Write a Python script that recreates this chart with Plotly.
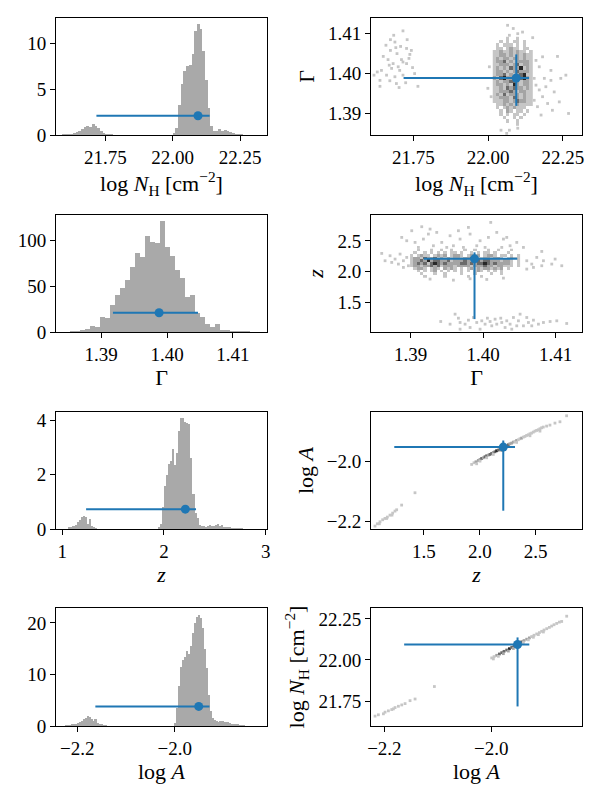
import numpy as np
import plotly.graph_objects as go

# ---- best values and intervals ----
NH_BEST, NH_LO, NH_HI = 22.094, 21.717, 22.137
GAM_BEST, GAM_LO, GAM_HI = 1.3988, 1.3918, 1.4047
Z_BEST, Z_LO, Z_HI = 2.21, 1.234, 2.315
LA_BEST, LA_LO, LA_HI = -1.951, -2.163, -1.929

# height of the marker inside the 1d histograms
NH_MARK_Y = 2.1
GAM_MARK_Y = 21.0
Z_MARK_Y = 0.73
LA_MARK_Y = 3.8

# ---- 1d histograms (normalised) ----
NH_BIN_START, NH_BIN_WIDTH = 21.59, 0.01
NH_DENSITY = ([0.05, 0.05, 0.1, 0.1, 0.2, 0.3, 0.45, 0.6, 0.85, 1.0, 0.9, 1.15, 0.95, 0.75, 0.4, 0.2,
               0.1, 0.05, 0.05]
              + [0.0] * 22
              + [0.15, 0.8, 3.3, 5.6, 7.0, 7.5, 7.6, 8.8, 11.3, 12.1, 11.5, 9.2, 6.0, 2.9, 1.0, 0.45,
                 0.4, 0.6, 0.45, 0.55, 0.4, 0.3, 0.25, 0.1, 0.05, 0.05])

GAM_BIN_START, GAM_BIN_WIDTH = 1.38529, 0.00076
GAM_DENSITY = [0.5, 1, 1.5, 3, 6, 5.5, 16, 15, 29, 40, 48, 57, 71, 86, 82, 105, 98, 97, 121, 93, 83,
               68, 59, 38, 40, 21, 16, 9, 5.5, 9, 2.5, 1.5, 1, 0.5, 0.3, 0.2]

Z_BIN_START, Z_BIN_WIDTH = 1.06, 0.02
Z_DENSITY = ([0.05, 0.05, 0.1, 0.15, 0.25, 0.35, 0.45, 0.48, 0.45, 0.2, 0.38, 0.1, 0.05, 0.03]
             + [0.0] * 30
             + [0.05, 0.2, 0.8, 1.6, 2.0, 2.4, 2.5, 2.95, 2.35, 2.8, 3.6, 4.1, 4.1, 3.95, 3.9, 3.85,
                2.6, 1.3, 0.6, 0.4, 0.15, 0.1, 0.1, 0.08, 0.1, 0.15, 0.12, 0.1, 0.15, 0.18, 0.1,
                0.15, 0.08, 0.05, 0.05, 0.04, 0.03, 0.02, 0.02, 0.02, 0.01, 0.01])

LA_BIN_START, LA_BIN_WIDTH = -2.224, 0.004
LA_DENSITY = ([0.05, 0.1, 0.15, 0.2, 0.3, 0.4, 0.6, 0.8, 1.0, 1.3, 1.6, 1.9, 1.7, 1.3, 0.9, 1.4, 0.6,
               0.3, 0.2, 0.1, 0.05]
              + [0.0] * 35
              + [0.5, 3.5, 7.8, 11.5, 12.8, 13.4, 14.5, 14.0, 15.5, 18.0, 20.0, 21.2, 21.6, 21.0,
                 19.0, 15.0, 11.2, 6.0, 3.0, 1.6, 1.1, 0.9, 0.8, 0.9, 1.0, 0.8, 0.8, 0.7, 0.5, 0.45,
                 0.35, 0.3, 0.2, 0.15, 0.1, 0.05])

# ---- 2d histograms ----
# dense cores as level maps (1 light .. 4 black), rows top to bottom
NHG_CORE_X0, NHG_CORE_DX = 22.021, 0.0111
NHG_CORE_Y0, NHG_CORE_DY = 1.4087, -0.00083
NHG_CORE = [
    "....1..1....",
    "..1.1.11.1..",
    ".1.111.1.1..",
    ".11.1211.11.",
    "1121121211.1",
    "112212121211",
    "121221221211",
    "122312122221",
    "112221231221",
    "121213224121",
    "122121232221",
    "122312123411",
    "213422213421",
    "121223321221",
    "122121421221",
    "112132322121",
    "112223212211",
    "121312221211",
    "112221321211",
    "111221232211",
    ".11212121111",
    ".1.1212111..",
    "..1.21.11.1.",
    "..1.1.11.1..",
    "...1..1.1...",
    "....1..1....",
    ".......1....",
]
NHG_SPARSE_NH = [21.715, 21.684, 21.673, 21.688, 21.729, 21.658, 21.707, 21.727, 21.673, 21.695,
                 21.649, 21.738, 21.665, 21.710, 21.682, 21.727, 21.747, 21.677, 21.699, 21.715,
                 21.643, 21.629, 21.660, 21.688, 21.715, 21.754, 21.638, 21.671, 21.693, 21.724,
                 21.765, 21.638, 21.702, 21.618, 21.735, 21.691, 21.669, 21.743, 21.704,
                 22.065, 22.084, 22.071, 22.099, 22.115, 22.149, 22.182, 22.210, 22.232, 22.260,
                 22.243, 22.160, 22.193, 22.171, 22.210, 22.221, 22.182, 22.199, 22.215, 22.177,
                 22.269, 22.238, 22.154, 22.165, 22.160, 22.171, 22.154, 22.188, 22.071, 22.099,
                 22.043, 22.004, 21.999, 22.010, 22.062]
NHG_SPARSE_G = [1.4106, 1.4095, 1.4084, 1.4078, 1.4084, 1.4070, 1.4067, 1.4062, 1.4057, 1.4049,
                1.4042, 1.4047, 1.4034, 1.4034, 1.4024, 1.4024, 1.4014, 1.4012, 1.4016, 1.4028,
                1.4007, 1.4003, 1.3995, 1.3991, 1.3995, 1.3999, 1.3982, 1.3981, 1.3974, 1.3976,
                1.3967, 1.3967, 1.3964, 1.3995, 1.4037, 1.4064, 1.4020, 1.4057, 1.4007,
                1.4120, 1.4112, 1.4095, 1.4099, 1.4103, 1.4089, 1.4041, 1.4007, 1.4042, 1.3995,
                1.3987, 1.3970, 1.3966, 1.3958, 1.3982, 1.3953, 1.3941, 1.3924, 1.3907, 1.3895,
                1.3899, 1.3928, 1.3932, 1.3916, 1.4032, 1.4016, 1.3987, 1.3987, 1.3857, 1.3862,
                1.3857, 1.4016, 1.3962, 1.3941, 1.3849]

GZ_CORE_X0, GZ_CORE_DX = 1.39014, 0.00046
GZ_CORE_Y0, GZ_CORE_DY = 2.3517, -0.0432
GZ_CORE = [
    "..1...1..1..1...1..1...1..1...1..",
    ".1..1.1.1.1.11.1..1.1.11.1...1...",
    "1.1211.1212.1221.1212.1221.11.1.1",
    "1221322312121221223211221221.1211",
    "1223242332231222322332332221221.1",
    "1232313432322223323233432322221.1",
    "1221223231222122221222322122111.1",
    ".1221.121.2121.1.12121221212.1...",
    "..1.1.12.1.1.1.1.1.121.1.1.1.....",
    "...1...1..1....1...1....1..1.....",
    "....1.....1......1...1...........",
]
GZ_SPARSE_G = [1.39152, 1.39267, 1.39014, 1.38876, 1.38945, 1.39060, 1.39175, 1.39359, 1.39428,
               1.39543, 1.39589, 1.39681, 1.39796, 1.39819, 1.39957, 1.40072, 1.40187, 1.40279,
               1.40325, 1.40371, 1.40555, 1.40808, 1.40104, 1.39497, 1.39313, 1.39911, 1.39727,
               1.40026, 1.40256, 1.39244, 1.39106, 1.39658, 1.40463,
               1.38600, 1.38715, 1.38784, 1.38853, 1.38899, 1.38830, 1.38738, 1.38945, 1.38646,
               1.38968, 1.38899,
               1.40601, 1.40670, 1.40739, 1.40808, 1.40946, 1.40992, 1.41084, 1.40693, 1.40601,
               1.40831,
               1.39267, 1.39589, 1.39819, 1.40049, 1.40279,
               1.39414, 1.39658, 1.39681, 1.39750, 1.39796, 1.39819, 1.39911, 1.39980, 1.40026,
               1.40095, 1.40164, 1.40187, 1.40256, 1.40325, 1.40371, 1.40417, 1.40486, 1.40509,
               1.40555, 1.40624, 1.40693, 1.40762, 1.40831, 1.40923, 1.41015, 1.41152, 1.39681,
               1.39957, 1.40302, 1.39612, 1.39543, 1.40394, 1.39865, 1.40118, 1.40463, 1.40670,
               1.40058, 1.40242, 1.40601]
GZ_SPARSE_Z = [2.730, 2.692, 2.665, 2.557, 2.503, 2.476, 2.530, 2.638, 2.476, 2.584, 2.422, 2.530,
               2.719, 2.611, 2.503, 2.557, 2.638, 2.530, 2.557, 2.422, 2.395, 2.330, 2.800, 2.395,
               2.422, 2.422, 2.395, 2.395, 2.395, 2.611, 2.395, 2.665, 2.476,
               2.298, 2.260, 2.206, 2.287, 2.179, 2.125, 2.152, 2.233, 2.179, 2.098, 2.071,
               2.179, 2.125, 2.233, 2.098, 2.125, 2.206, 2.098, 2.071, 2.044, 2.179,
               1.882, 1.865, 1.887, 1.876, 1.898,
               1.195, 1.249, 1.179, 1.152, 1.217, 1.098, 1.179, 1.206, 1.152, 1.195, 1.233, 1.152,
               1.179, 1.206, 1.152, 1.260, 1.206, 1.314, 1.125, 1.179, 1.217, 1.152, 1.179, 1.195,
               1.206, 1.163, 1.071, 1.071, 1.098, 1.314, 1.152, 1.071, 1.260, 1.125, 1.125, 1.125,
               1.249, 1.249, 1.260]

ZA_Z = [1.9267, 1.9477, 1.9655, 1.9864, 2.0014, 2.0163, 2.0312, 2.0461, 2.0611, 2.0760, 2.0909,
        2.1058, 2.1207, 2.1357, 2.1506, 2.1655, 2.1804, 2.1954, 2.2252, 2.2401, 2.2550, 2.2699,
        2.2849, 2.2998, 2.3147, 2.3296, 2.3446, 2.3595, 2.3744, 2.3893, 2.4042, 2.4192, 2.4341,
        2.4490, 2.4639, 2.4789, 2.4938, 2.5087, 2.5236, 2.5385, 2.5535, 2.5684, 2.5982, 2.6281,
        2.6729, 2.7176, 2.7773,
        2.0014, 2.0611, 2.1207, 1.9715, 2.1954, 2.3296, 2.4490, 2.5385,
        1.0613, 1.0822, 1.1061, 1.1300, 1.1509, 1.1717, 1.1956, 1.2195, 1.2404, 1.2553, 1.2999,
        1.4194, 1.1001, 1.1658, 1.2135]
ZA_A = [-2.0088, -2.0032, -1.9999, -1.9954, -1.9921, -1.9888, -1.9866, -1.9832, -1.9799, -1.9777,
        -1.9754, -1.9721, -1.9688, -1.9666, -1.9632, -1.9610, -1.9577, -1.9554, -1.9488, -1.9466,
        -1.9432, -1.9399, -1.9377, -1.9343, -1.9321, -1.9288, -1.9266, -1.9232, -1.9210, -1.9177,
        -1.9154, -1.9121, -1.9099, -1.9066, -1.9043, -1.9010, -1.8977, -1.8954, -1.8932, -1.8899,
        -1.8866, -1.8843, -1.8810, -1.8777, -1.8710, -1.8666, -1.8466,
        -1.9977, -1.9866, -1.9754, -2.0066, -1.9621, -1.9354, -1.9132, -1.8977,
        -2.2143, -2.2066, -2.1999, -2.1932, -2.1888, -2.1843, -2.1777, -2.1710, -2.1643, -2.1599,
        -2.1443, -2.1032, -2.2066, -2.1888, -2.1777]
ZA_LEVEL = ([1, 1, 2, 2, 2, 3, 2, 3, 3, 2, 3, 3, 2, 3, 4, 3, 3, 4, 3, 2, 3, 2, 2, 2, 1, 2, 1, 1,
             2, 1, 1, 1, 1, 1, 1, 1, 1, 1, 1, 1, 1, 1, 1, 1, 1, 1, 1]
            + [1, 1, 1, 1, 2, 1, 1, 1]
            + [1] * 15)

AN_A = [-1.9993, -1.9949, -1.9900, -1.9850, -1.9806, -1.9763, -1.9713, -1.9663, -1.9619, -1.9576,
        -1.9526, -1.9476, -1.9433, -1.9389, -1.9339, -1.9289, -1.9246, -1.9202, -1.9152, -1.9102,
        -1.9059, -1.9015, -1.8965, -1.8915, -1.8872, -1.8828, -1.8778, -1.8728, -1.8685, -1.8591,
        -1.9962, -1.9869, -1.9775, -1.9682, -1.9588, -1.9495, -1.9401, -1.9308, -1.9214, -1.9121,
        -1.9027,
        -2.2174, -2.2112, -2.1987, -2.1925, -2.1862, -2.1800, -2.1738, -2.1675, -2.1613, -2.1520,
        -2.1426, -2.1065, -2.2018, -2.1831]
AN_NH = [22.0122, 22.0202, 22.0282, 22.0362, 22.0442, 22.0522, 22.0602, 22.0682, 22.0762, 22.0841,
         22.0941, 22.1021, 22.1101, 22.1181, 22.1261, 22.1341, 22.1421, 22.1501, 22.1581, 22.1661,
         22.1741, 22.1821, 22.1901, 22.1981, 22.2061, 22.2141, 22.2221, 22.2301, 22.2341, 22.2661,
         22.0062, 22.0222, 22.0382, 22.0542, 22.0702, 22.0861, 22.1061, 22.1221, 22.1381, 22.1541,
         22.1701,
         21.6582, 21.6662, 21.6822, 21.6902, 21.6982, 21.7102, 21.7182, 21.7262, 21.7342, 21.7522,
         21.7622, 21.8382, 21.6722, 21.7022]
AN_LEVEL = ([1, 1, 2, 3, 3, 3, 3, 4, 3, 3, 4, 3, 3, 2, 2, 2, 1, 1, 1, 1, 1, 1, 1, 1, 1, 1, 1, 1, 1, 1]
            + [1, 1, 2, 2, 2, 2, 1, 1, 1, 1, 1]
            + [1] * 14)

# ---- axes ----
T_NH = "log <i>N</i><sub>H</sub> [cm<sup>\u22122</sup>]"
T_G = "\u0393"
T_Z = "<i>z</i>"
T_A = "log <i>A</i>"

RANGES_X = [[21.567, 22.35], [21.608, 22.314], [1.38316, 1.41517], [1.38452, 1.41363],
            [0.938, 3.013], [1.0255, 2.915], [-2.2437, -1.811], [-2.225, -1.8305]]
RANGES_Y = [[0, 12.75], [1.3845, 1.41383], [0, 127.5], [1.025, 2.92],
            [0, 4.31], [-2.224, -1.834], [0, 22.9], [21.598, 22.316]]
NH_TICKS = ([21.75, 22.0, 22.25], ["21.75", "22.00", "22.25"])
G_TICKS = ([1.39, 1.40, 1.41], ["1.39", "1.40", "1.41"])
Z_TICKS_L = ([1, 2, 3], ["1", "2", "3"])
Z_TICKS_R = ([1.5, 2.0, 2.5], ["1.5", "2.0", "2.5"])
A_TICKS = ([-2.2, -2.0], ["\u22122.2", "\u22122.0"])
TICKS_X = [NH_TICKS, NH_TICKS, G_TICKS, G_TICKS, Z_TICKS_L, Z_TICKS_R, A_TICKS, A_TICKS]
TICKS_Y = [([0, 5, 10], ["0", "5", "10"]), G_TICKS, ([0, 50, 100], ["0", "50", "100"]), Z_TICKS_R,
           ([0, 2, 4], ["0", "2", "4"]), A_TICKS, ([0, 10, 20], ["0", "10", "20"]), NH_TICKS]
TITLES_X = [T_NH, T_NH, T_G, T_G, T_Z, T_Z, T_A, T_A]
TITLES_Y = [None, T_G, None, T_Z, None, T_A, None, T_NH]

BLUE = "#1f77b4"
BAR_GREY = "#a9a9a9"
LEVEL_COLORS = {1: "#c6c6c6", 2: "#a4a4a4", 3: "#6a6a6a", 4: "#262626"}

# the page body adds an 8 px margin, so the figure is drawn 584 x 784 and shifted by 8 px
FIG_W, FIG_H, PAGE_PAD = 584, 784, 8


def xdom(left, right):
    return [(left - PAGE_PAD) / FIG_W, (right - PAGE_PAD) / FIG_W]


def ydom(top, bottom):
    return [(FIG_H + PAGE_PAD - bottom) / FIG_H, (FIG_H + PAGE_PAD - top) / FIG_H]


X_DOMAINS = [xdom(56, 267), xdom(371, 582)]
Y_DOMAINS = [ydom(18, 135), ydom(215, 332), ydom(412, 529), ydom(608, 726)]


def axis_names(k):
    return ("x" if k == 1 else f"x{k}"), ("y" if k == 1 else f"y{k}")


def hist_trace(start, width, dens, k):
    xa, ya = axis_names(k)
    centers = start + width * (np.arange(len(dens)) + 0.5)
    return go.Bar(x=centers, y=dens, width=width, marker=dict(color=BAR_GREY, line=dict(width=0)),
                  xaxis=xa, yaxis=ya, hoverinfo="skip")


def core_trace(rows, x0, dx, y0, dy, k):
    xa, ya = axis_names(k)
    ncol = max(len(r) for r in rows)
    z = [[int(c) if c.isdigit() else None for c in r.ljust(ncol, ".")] for r in rows]
    xs = x0 + dx * np.arange(ncol)
    ys = y0 + dy * np.arange(len(rows))
    cs = []
    for i, lv in enumerate([1, 2, 3, 4]):
        cs += [[i / 4, LEVEL_COLORS[lv]], [(i + 1) / 4, LEVEL_COLORS[lv]]]
    return go.Heatmap(x=xs, y=ys[::-1], z=z[::-1], zmin=0.5, zmax=4.5, colorscale=cs,
                      showscale=False, xaxis=xa, yaxis=ya, hoverinfo="skip")


def cells_trace(xs, ys, levels, k):
    xa, ya = axis_names(k)
    return go.Scatter(x=xs, y=ys, mode="markers", xaxis=xa, yaxis=ya, hoverinfo="skip",
                      marker=dict(symbol="square", size=2.8, line=dict(width=0),
                                  color=[LEVEL_COLORS[lv] for lv in levels]))


def estimate_trace(x, xlo, xhi, y, k, ylo=None, yhi=None):
    xa, ya = axis_names(k)
    err_y = None
    if ylo is not None:
        err_y = dict(type="data", symmetric=False, array=[yhi - y], arrayminus=[y - ylo],
                     color=BLUE, thickness=2, width=0)
    return go.Scatter(x=[x], y=[y], mode="markers", xaxis=xa, yaxis=ya, hoverinfo="skip",
                      marker=dict(size=9, color=BLUE),
                      error_x=dict(type="data", symmetric=False, array=[xhi - x],
                                   arrayminus=[x - xlo], color=BLUE, thickness=2, width=0),
                      error_y=err_y)


fig = go.Figure()

# row 1: log NH
fig.add_trace(hist_trace(NH_BIN_START, NH_BIN_WIDTH, NH_DENSITY, 1))
fig.add_trace(estimate_trace(NH_BEST, NH_LO, NH_HI, NH_MARK_Y, 1))
fig.add_trace(cells_trace(NHG_SPARSE_NH, NHG_SPARSE_G, [1] * len(NHG_SPARSE_NH), 2))
fig.add_trace(core_trace(NHG_CORE, NHG_CORE_X0, NHG_CORE_DX, NHG_CORE_Y0, NHG_CORE_DY, 2))
fig.add_trace(estimate_trace(NH_BEST, NH_LO, NH_HI, GAM_BEST, 2, GAM_LO, GAM_HI))

# row 2: Gamma
fig.add_trace(hist_trace(GAM_BIN_START, GAM_BIN_WIDTH, GAM_DENSITY, 3))
fig.add_trace(estimate_trace(GAM_BEST, GAM_LO, GAM_HI, GAM_MARK_Y, 3))
fig.add_trace(cells_trace(GZ_SPARSE_G, GZ_SPARSE_Z, [1] * len(GZ_SPARSE_G), 4))
fig.add_trace(core_trace(GZ_CORE, GZ_CORE_X0, GZ_CORE_DX, GZ_CORE_Y0, GZ_CORE_DY, 4))
fig.add_trace(estimate_trace(GAM_BEST, GAM_LO, GAM_HI, Z_BEST, 4, Z_LO, Z_HI))

# row 3: z
fig.add_trace(hist_trace(Z_BIN_START, Z_BIN_WIDTH, Z_DENSITY, 5))
fig.add_trace(estimate_trace(Z_BEST, Z_LO, Z_HI, Z_MARK_Y, 5))
fig.add_trace(cells_trace(ZA_Z, ZA_A, ZA_LEVEL, 6))
fig.add_trace(estimate_trace(Z_BEST, Z_LO, Z_HI, LA_BEST, 6, LA_LO, LA_HI))

# row 4: log A
fig.add_trace(hist_trace(LA_BIN_START, LA_BIN_WIDTH, LA_DENSITY, 7))
fig.add_trace(estimate_trace(LA_BEST, LA_LO, LA_HI, LA_MARK_Y, 7))
fig.add_trace(cells_trace(AN_A, AN_NH, AN_LEVEL, 8))
fig.add_trace(estimate_trace(LA_BEST, LA_LO, LA_HI, NH_BEST, 8, NH_LO, NH_HI))

layout = dict(width=FIG_W, height=FIG_H, margin=dict(l=0, r=0, t=0, b=0),
              paper_bgcolor="white", plot_bgcolor="white", showlegend=False, bargap=0,
              font=dict(family="Liberation Serif", size=19, color="black"))

common = dict(showline=True, linecolor="black", linewidth=1, mirror=True, ticks="outside",
              ticklen=5, tickwidth=1, tickcolor="black", showgrid=False, zeroline=False,
              automargin=False, tickfont=dict(size=19))

for k in range(1, 9):
    row, col = (k - 1) // 2, (k - 1) % 2
    xname = "xaxis" if k == 1 else f"xaxis{k}"
    yname = "yaxis" if k == 1 else f"yaxis{k}"
    xa, ya = axis_names(k)
    layout[xname] = dict(common, domain=X_DOMAINS[col], range=RANGES_X[k - 1], anchor=ya,
                         tickvals=TICKS_X[k - 1][0], ticktext=TICKS_X[k - 1][1],
                         title=dict(text=TITLES_X[k - 1], font=dict(size=22), standoff=3))
    ydict = dict(common, domain=Y_DOMAINS[row], range=RANGES_Y[k - 1], anchor=xa,
                 tickvals=TICKS_Y[k - 1][0], ticktext=TICKS_Y[k - 1][1])
    if TITLES_Y[k - 1]:
        ydict["title"] = dict(text=TITLES_Y[k - 1], font=dict(size=22), standoff=7)
    layout[yname] = ydict

fig.update_layout(**layout)
fig.write_html("out.html")
